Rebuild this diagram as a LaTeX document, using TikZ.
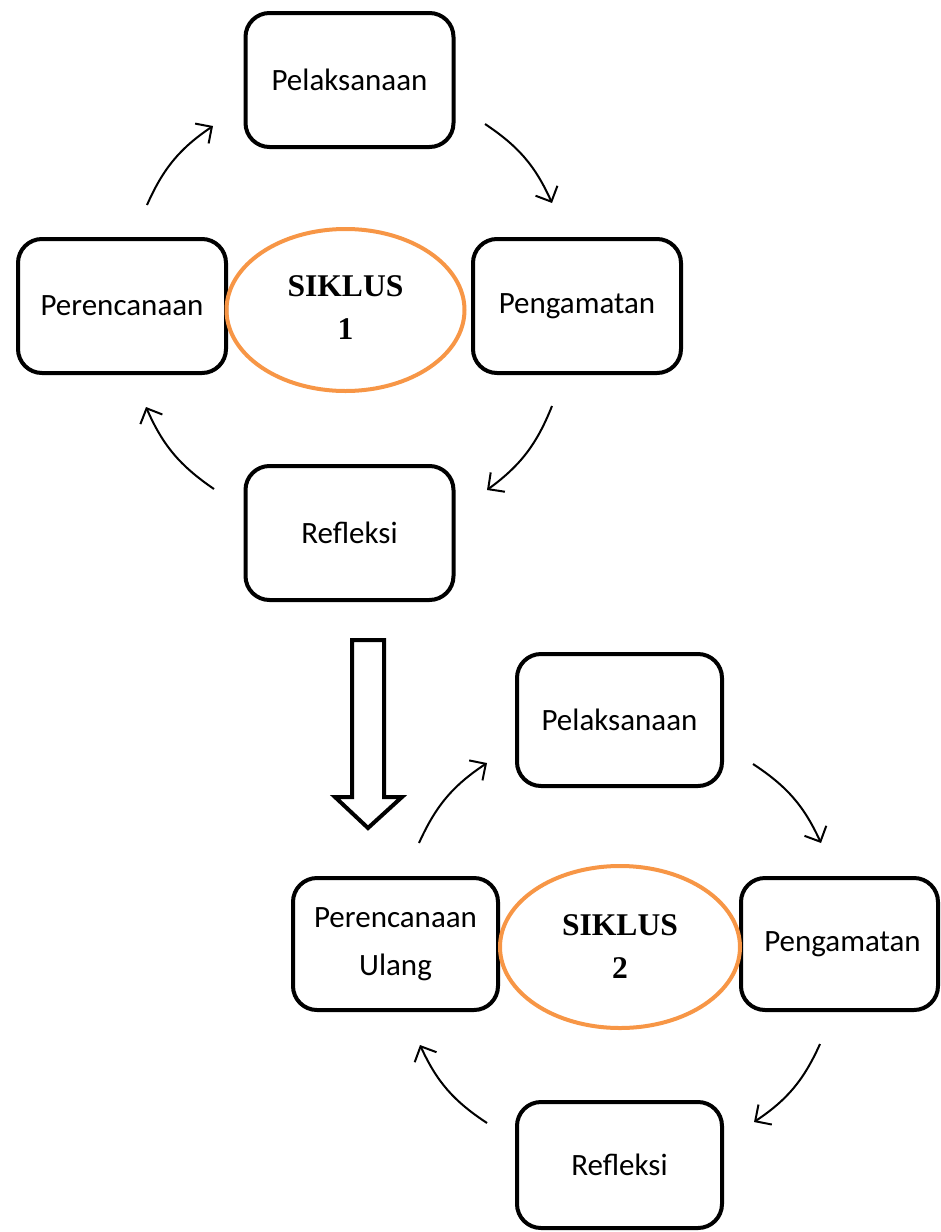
\documentclass[tikz,border=0pt]{standalone}
\usepackage{fontspec}
\setmainfont{Carlito}
\newfontfamily\tnr{Liberation Serif}
\usetikzlibrary{shapes.geometric,arrows.meta}
\definecolor{siklusorange}{HTML}{F79646}
\tikzset{
  stepbox/.style={draw=black, line width=2pt, rounded corners=12pt, fill=white,
    align=center, inner sep=2pt, font=\fontsize{15.5}{24}\selectfont},
  box1/.style={stepbox, minimum width=104pt, minimum height=67pt},
  box2/.style={stepbox, minimum width=102.5pt, minimum height=66pt},
  siklus/.style={draw=siklusorange, line width=2pt, ellipse, inner sep=0pt,
    align=center, font=\tnr\bfseries\fontsize{15.8}{21.5}\selectfont},
  cyc/.style={-{Straight Barb[length=6pt,width=12pt]}, line width=1pt, bend left=16},
  hollow/.style={draw=black, line width=2pt, fill=white, line join=miter}
}
\begin{document}
\begin{tikzpicture}[x=0.5pt,y=-0.5pt]
\useasboundingbox (0,0) rectangle (941,1232);
% cycle 1
\node[box1] (pel1) at (349.5,80) {Pelaksanaan};
\node[box1] (per1) at (122,306) {Perencanaan};
\node[box1] (pen1) at (577,306) {Pengamatan};
\node[box1] (ref1) at (349.5,533) {Refleksi};
\node[siklus, minimum width=119pt, minimum height=81pt] (s1) at (345.5,310) {\raisebox{2pt}{SIKLUS}\\\raisebox{2pt}{1}};
\coordinate (a1s) at (147,205); \coordinate (a1e) at (213,126);
\coordinate (a2s) at (485,124); \coordinate (a2e) at (552,203);
\coordinate (a3s) at (552,406); \coordinate (a3e) at (487,490);
\coordinate (a4s) at (214,489); \coordinate (a4e) at (146,407);
\draw[cyc] (a1s) to (a1e);
\draw[cyc] (a2s) to (a2e);
\draw[cyc] (a3s) to (a3e);
\draw[cyc] (a4s) to (a4e);
% big hollow arrow
\draw[hollow] (352,640) -- (384,640) -- (384,797) -- (402,797) -- (368,828) -- (335,797) -- (352,797) -- cycle;
% cycle 2
\node[box2] (pel2) at (619.5,720) {Pelaksanaan};
\node[box2] (per2) at (395.5,944) {Perencanaan\\Ulang};
\node[box2, minimum width=98.5pt] (pen2) at (839.5,944) {\hspace{3pt}Pengamatan};
\node[box2, minimum height=63pt] (ref2) at (619.5,1165) {Refleksi};
\node[siklus, minimum width=120pt, minimum height=81pt] (s2) at (620,947) {SIKLUS\\2};
\coordinate (b1s) at (419,843); \coordinate (b1e) at (487,763);
\coordinate (b2s) at (753,764); \coordinate (b2e) at (821,843);
\coordinate (b3s) at (820,1044); \coordinate (b3e) at (754,1122);
\coordinate (b4s) at (487,1123); \coordinate (b4e) at (420,1045);
\draw[cyc] (b1s) to (b1e);
\draw[cyc] (b2s) to (b2e);
\draw[cyc] (b3s) to (b3e);
\draw[cyc] (b4s) to (b4e);
\end{tikzpicture}
\end{document}
